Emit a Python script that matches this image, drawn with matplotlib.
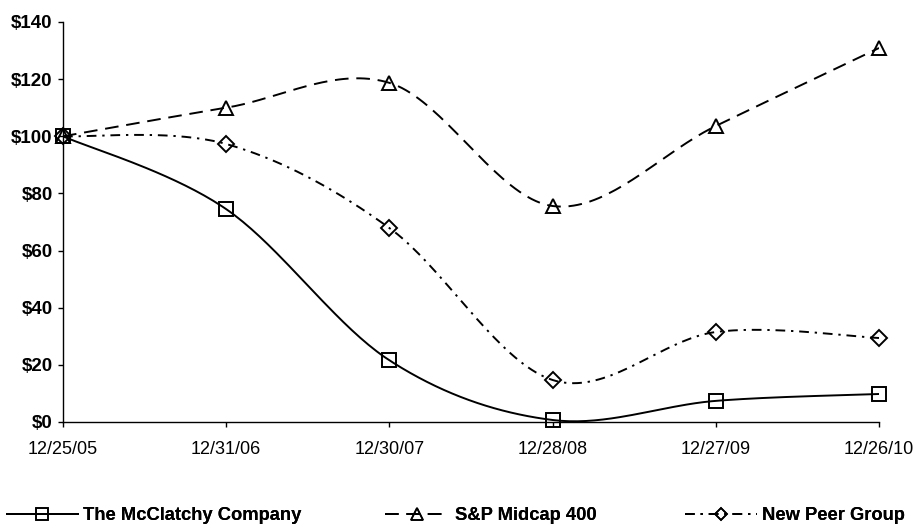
import numpy as np
import matplotlib
matplotlib.use("Agg")
import matplotlib.pyplot as plt
from matplotlib.lines import Line2D

dates = ["12/25/05", "12/31/06", "12/30/07", "12/28/08", "12/27/09", "12/26/10"]
mcclatchy = [100, 74.5, 21.6, 0.7, 7.4, 9.8]
sp_midcap = [100, 110.0, 118.7, 75.6, 103.6, 130.9]
peer_group = [100, 97.3, 67.9, 14.7, 31.5, 29.4]
yticks = [0, 20, 40, 60, 80, 100, 120, 140]

plt.rcParams['font.family'] = ['Liberation Sans', 'DejaVu Sans']

def smooth(x, y, n=40):
    # Excel-style smoothed line: cubic Bezier through points (Catmull-Rom, tension 1/6)
    x = np.asarray(x, float); y = np.asarray(y, float)
    xs, ys = [], []
    m = len(x)
    for i in range(m - 1):
        p0 = np.array([x[max(i - 1, 0)], y[max(i - 1, 0)]])
        p1 = np.array([x[i], y[i]])
        p2 = np.array([x[i + 1], y[i + 1]])
        p3 = np.array([x[min(i + 2, m - 1)], y[min(i + 2, m - 1)]])
        c1 = p1 + (p2 - p0) / 6.0
        c2 = p2 - (p3 - p1) / 6.0
        t = np.linspace(0, 1, n)[:, None]
        pts = ((1 - t) ** 3) * p1 + 3 * ((1 - t) ** 2) * t * c1 + 3 * (1 - t) * t ** 2 * c2 + t ** 3 * p2
        xs.extend(pts[:, 0]); ys.extend(pts[:, 1])
    return np.array(xs), np.array(ys)

fig = plt.figure(figsize=(9.16, 5.31), dpi=100)
ax = fig.add_axes([63 / 916, 1 - 422 / 531, (879 - 63) / 916, 400 / 531])

xi = np.arange(len(dates))
styles = [
    (mcclatchy, 's', '-', "The McClatchy Company"),
    (sp_midcap, '^', (0, (7, 4)), "S&P Midcap 400"),
    (peer_group, 'D', (0, (5, 3, 1.2, 3)), "New Peer Group"),
]
handles = []
for vals, mk, ls, lab in styles:
    sx, sy = smooth(xi, vals)
    ax.plot(sx, sy, color='black', lw=1.4, linestyle=ls, zorder=2)
    ms = 9.5 if mk != 'D' else 8
    ax.plot(xi, vals, linestyle='none', marker=mk, markersize=ms, markerfacecolor='none',
            markeredgecolor='black', markeredgewidth=1.4, zorder=3, clip_on=False)
    handles.append(Line2D([0], [0], color='black', lw=1.4, linestyle=ls, marker=mk,
                          markersize=ms - 1.5, markerfacecolor='none', markeredgecolor='black',
                          markeredgewidth=1.2, label=lab))

ax.set_xlim(0, len(dates) - 1)
ax.set_ylim(0, 140)
ax.set_xticks(xi)
ax.set_xticklabels(dates)
ax.set_yticks(yticks)
ax.set_yticklabels([f"${v}" for v in yticks])
for s in ['top', 'right']:
    ax.spines[s].set_visible(False)
ax.spines['left'].set_linewidth(1.0)
ax.spines['bottom'].set_linewidth(1.0)
ax.tick_params(axis='both', direction='out', length=3.5, width=1.0)
ax.tick_params(axis='x', pad=10, labelsize=13)
ax.tick_params(axis='y', pad=4, labelsize=13.5)
for lbl in ax.get_yticklabels():
    lbl.set_fontweight('bold')

# legend entries placed individually: (handle start x px, handle length em)
leg_pos = [(7, 3.85), (385, 3.5), (685, 3.9)]
for h, (x0, hl) in zip(handles, leg_pos):
    lg = fig.legend(handles=[h], loc='center left', bbox_to_anchor=(x0 / 916, 1 - 516 / 531),
                    frameon=False, handlelength=hl, handletextpad=0.3, borderpad=0,
                    borderaxespad=0, prop={'weight': 'bold', 'size': 13.2})
    fig.add_artist(lg)

fig.savefig("out.png", dpi=100)
